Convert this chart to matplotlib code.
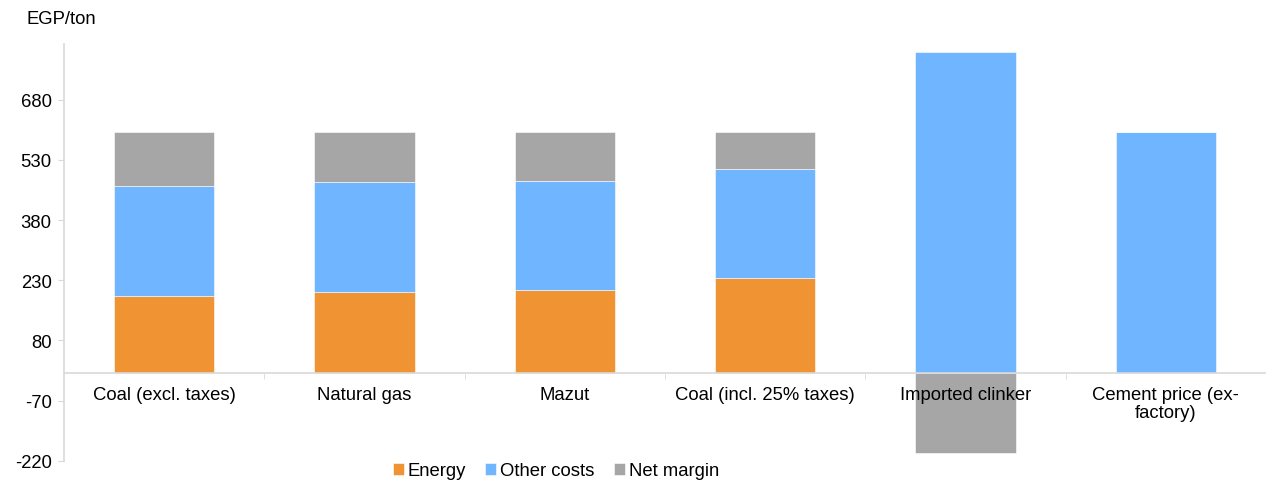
import matplotlib
matplotlib.use("Agg")
import matplotlib.pyplot as plt
import numpy as np

plt.rcParams['font.family'] = ['Liberation Sans', 'DejaVu Sans']
plt.rcParams['axes.unicode_minus'] = False

categories = ["Coal (excl. taxes)", "Natural gas", "Mazut", "Coal (incl. 25% taxes)",
              "Imported clinker", "Cement price (ex-\nfactory)"]
energy = [190, 200, 205, 235, 0, 0]
other_costs = [275, 274, 273, 273, 800, 600]
net_margin = [135, 126, 122, 92, -200, 0]

c_energy = "#F09433"
c_other = "#70B5FF"
c_margin = "#A6A6A6"
fs = 13.3

fig = plt.figure(figsize=(12.66, 4.85), dpi=100)
ax = fig.add_axes([64 / 1266, 0.048, 1 - 64 / 1266, 0.859])

x = np.arange(len(categories))
w = 0.5
energy = np.array(energy)
other_costs = np.array(other_costs)
net_margin = np.array(net_margin)

ax.bar(x, energy, w, color=c_energy, label="Energy", edgecolor="white", linewidth=0.4)
ax.bar(x, other_costs, w, bottom=energy, color=c_other, label="Other costs",
       edgecolor="white", linewidth=0.4)
# a negative margin hangs below zero rather than on top of the stack
margin_bottom = np.where(net_margin >= 0, energy + other_costs, 0)
ax.bar(x, net_margin, w, bottom=margin_bottom, color=c_margin, label="Net margin",
       edgecolor="white", linewidth=0.4)

ax.set_xlim(-0.5, len(categories) - 0.5)
ax.set_ylim(-220, 819)
ax.set_yticks(np.arange(-220, 681, 150))
ax.tick_params(axis='y', labelsize=fs, length=4, color="#d9d9d9", pad=5)

ax.spines['bottom'].set_position(('data', 0))
for s in ['top', 'right']:
    ax.spines[s].set_visible(False)
ax.spines['left'].set_color("#d9d9d9")
ax.spines['bottom'].set_color("#d9d9d9")
ax.spines['left'].set_linewidth(1.2)
ax.spines['bottom'].set_linewidth(1.2)

ax.set_xticks(x)
ax.set_xticklabels(categories, fontsize=fs, va='top', linespacing=1.05)
ax.set_xticks(x[:-1] + 0.5, minor=True)
ax.tick_params(axis='x', which='major', length=0, pad=10)
ax.tick_params(axis='x', which='minor', length=4, color="#d9d9d9")

fig.text(26 / 1266, 1 - 20 / 485, "EGP/ton", fontsize=fs, va='center', ha='left')

fig.legend(loc='center', bbox_to_anchor=(0.439, 0.027), ncol=3, frameon=False,
           fontsize=fs, handlelength=0.6, handleheight=0.6, handletextpad=0.2,
           columnspacing=1.05)

fig.savefig("out.png", dpi=100)
